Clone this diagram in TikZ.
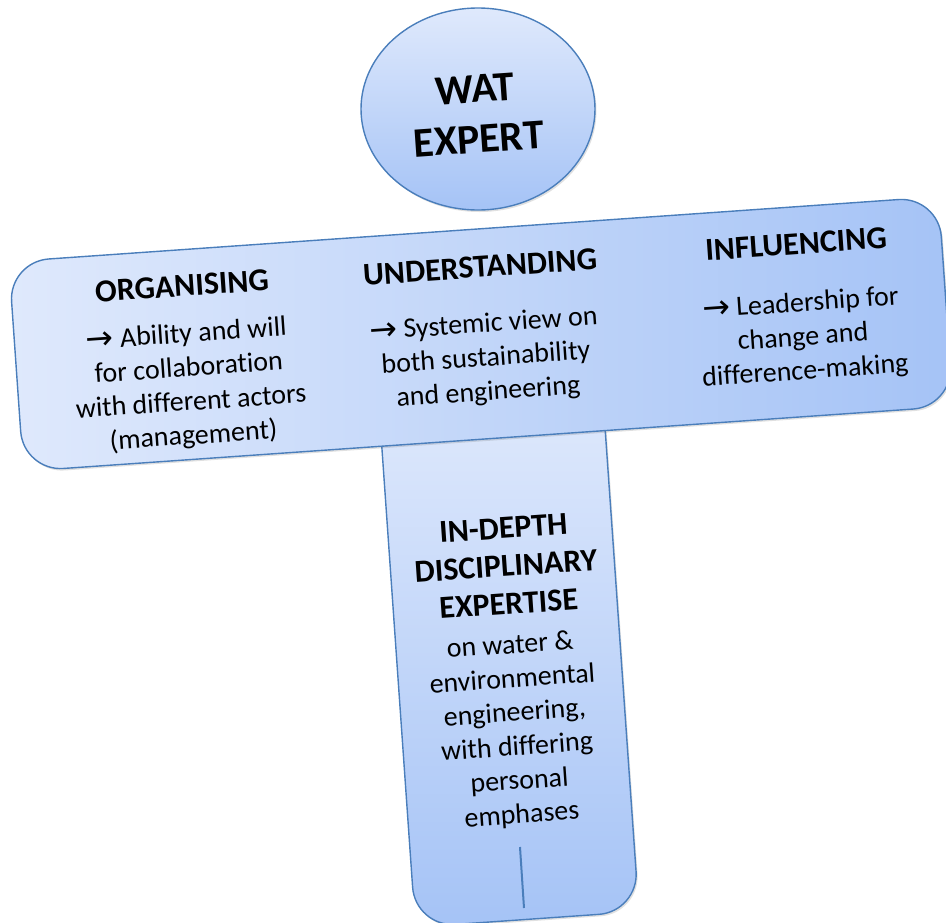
\documentclass[tikz,border=0pt]{standalone}
\usepackage{fontspec}
\setmainfont{Carlito}[Ligatures={NoCommon,NoRare,NoDiscretionary}]
\newfontfamily\arrowfont{DejaVu Sans}
\usetikzlibrary{shapes.geometric,shadows}
\definecolor{edgeblue}{HTML}{4A7EBB}
\definecolor{lightfill}{HTML}{DFE9FC}
\definecolor{darkfill}{HTML}{A5C3F6}
\newcommand{\myarrow}{{\arrowfont\fontsize{33}{34}\selectfont\raisebox{-1.5pt}{→}}}
\begin{document}
\begin{tikzpicture}[x=1pt,y=1pt,
  panel/.style={draw=edgeblue, line width=1.4pt, rounded corners=40pt, rotate=4, inner sep=0pt,
    drop shadow={shadow xshift=1.5pt, shadow yshift=-2pt, opacity=0.2, fill=black!60}},
  headtext/.style={font=\fontsize{32}{38}\selectfont\bfseries, align=center, rotate=4, inner sep=0pt},
  bodytext/.style={font=\fontsize{28}{34}\selectfont, align=center, rotate=4, inner sep=0pt}]
\useasboundingbox (0,0) rectangle (946,-922);
\node[panel, minimum width=224pt, minimum height=520pt, top color=lightfill, bottom color=darkfill] (stem) at (509,-660) {};
\node[panel, minimum width=932pt, minimum height=210pt, left color=lightfill, right color=darkfill] (bar) at (481,-334) {};
\node[draw=edgeblue, line width=1.4pt, ellipse, minimum width=234pt, minimum height=202pt, top color=lightfill, bottom color=darkfill,
  drop shadow={shadow xshift=1.5pt, shadow yshift=-2pt, opacity=0.2, fill=black!60}] (head) at (478,-109) {};
\node[font=\fontsize{42}{50}\selectfont\bfseries, align=center, rotate=4, inner sep=0pt] (wat) at (477,-114) {WAT\\EXPERT};
\node[headtext] (org) at (182,-286) {ORGANISING};
\node[bodytext] (orgb) at (190,-386) {\myarrow{} Ability and will\\for collaboration\\with different actors\\(management)};
\node[headtext] (und) at (480,-267) {UNDERSTANDING};
\node[bodytext] (undb) at (486,-359) {\myarrow{} Systemic view on\\both sustainability\\and engineering};
\node[headtext] (inf) at (796,-244) {INFLUENCING};
\node[bodytext] (infb) at (803,-338) {\myarrow{} Leadership for\\change and\\difference-making};
\node[headtext] (dep) at (506,-566) {IN-DEPTH\\DISCIPLINARY\\EXPERTISE};
\node[bodytext] (depb) at (516,-731) {on water \&\\environmental\\engineering,\\with differing\\personal\\emphases};
\coordinate (ticktop) at (520,-847);
\coordinate (tickbot) at (524,-908);
\draw[edgeblue, line width=2pt] (ticktop) -- (tickbot);
\end{tikzpicture}
\end{document}
